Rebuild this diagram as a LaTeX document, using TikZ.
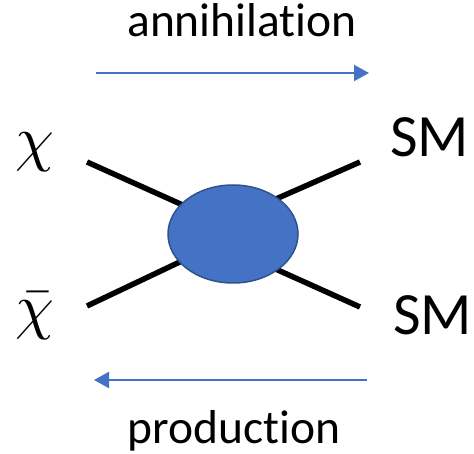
\documentclass[tikz,border=0pt]{standalone}
\usepackage{fontspec}
\setmainfont[Ligatures=NoCommon]{Carlito}
\usetikzlibrary{arrows.meta,shapes.geometric}
\definecolor{blobfill}{HTML}{4472C4}
\definecolor{blobedge}{HTML}{2F528F}
\begin{document}
\begin{tikzpicture}[x=1pt,y=-1pt,
  leg/.style={line width=5.5pt},
  flow/.style={draw=blobfill,line width=2.2pt,-{Triangle[length=15pt,width=16pt]}},
  lbl/.style={inner sep=0pt,anchor=base,font=\fontsize{47.5}{52}\selectfont},
  sm/.style={inner sep=0pt,anchor=base west,font=\fontsize{60}{64}\selectfont},
  part/.style={inner sep=0pt,anchor=base west}]
\useasboundingbox (0,0) rectangle (474,454);
% labels
\node[lbl] (ann) at (242,37) {annihilation};
\node[lbl] (prod) at (234,443) {production};
% arrows
\coordinate (a1) at (96,73);
\coordinate (a2) at (369,73);
\coordinate (p1) at (367,380);
\coordinate (p2) at (94,380);
\draw[flow] (a1) -- (a2);
\draw[flow] (p1) -- (p2);
% legs
\coordinate (tl) at (87,162);  \coordinate (tli) at (205,215);
\coordinate (tr) at (360,162); \coordinate (tri) at (260,206);
\coordinate (bl) at (87,306);  \coordinate (bli) at (205,250);
\coordinate (br) at (360,307); \coordinate (bri) at (260,262);
\draw[leg] (tl) -- (tli);
\draw[leg] (tr) -- (tri);
\draw[leg] (bl) -- (bli);
\draw[leg] (br) -- (bri);
% blob
\node[ellipse,draw=blobedge,fill=blobfill,line width=1.5pt,minimum width=130pt,minimum height=98pt,inner sep=0pt] (blob) at (233,234) {};
% particles
\node[part] (chi) at (15,160) {\scalebox{6.2}{$\chi$}};
\node[part] (chibar) at (15,328) {\scalebox{6.2}{$\bar{\chi}$}};
\node[sm] (sm1) at (390,157) {SM};
\node[sm] (sm2) at (393,335) {SM};
\end{tikzpicture}
\end{document}
